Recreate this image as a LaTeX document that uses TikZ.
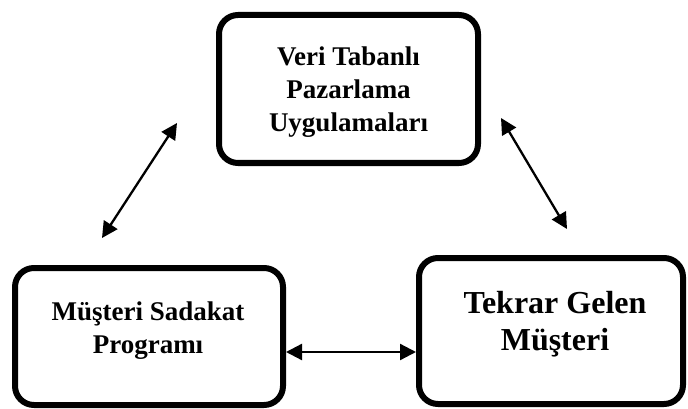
\documentclass[tikz,border=0pt]{standalone}
\usepackage{fontspec}
\setmainfont{Liberation Serif}
\usetikzlibrary{arrows.meta}
\begin{document}
\begin{tikzpicture}[x=1pt,y=-1pt,
  box/.style={draw=black,line width=6pt,rounded corners=19pt,inner sep=0pt,fill=white},
  smalltxt/.style={align=center,font=\fontsize{27}{33}\selectfont\bfseries,inner sep=0pt},
  bigtxt/.style={align=center,font=\fontsize{32}{37}\selectfont\bfseries,inner sep=0pt},
  dblarrow/.style={line width=2.3pt,{Triangle[length=16pt,width=16pt]}-{Triangle[length=16pt,width=16pt]}}
]
\useasboundingbox (0,0) rectangle (688,409);
% boxes (stroke centre lines)
\node[box,minimum width=259pt,minimum height=148pt] (vt) at (348.5,89) {};
\node[box,minimum width=268pt,minimum height=137pt] (msp) at (149,336.5) {};
\node[box,minimum width=264pt,minimum height=146pt] (tgm) at (551,331) {};
% texts
\node[smalltxt] (vtt) at (348.5,92.5) {Veri Tabanlı\\Pazarlama\\Uygulamaları};
\node[smalltxt] (mspt) at (148,330.5) {Müşteri Sadakat\\Programı};
\node[bigtxt] (tgmt) at (555,324) {Tekrar Gelen\\Müşteri};
% arrow end points
\coordinate (l1) at (177,123);
\coordinate (l2) at (102,238);
\coordinate (r1) at (501,118);
\coordinate (r2) at (567,229);
\coordinate (h1) at (286,352);
\coordinate (h2) at (416,352);
\draw[dblarrow] (l2) -- (l1);
\draw[dblarrow] (r1) -- (r2);
\draw[dblarrow] (h1) -- (h2);
\end{tikzpicture}
\end{document}
